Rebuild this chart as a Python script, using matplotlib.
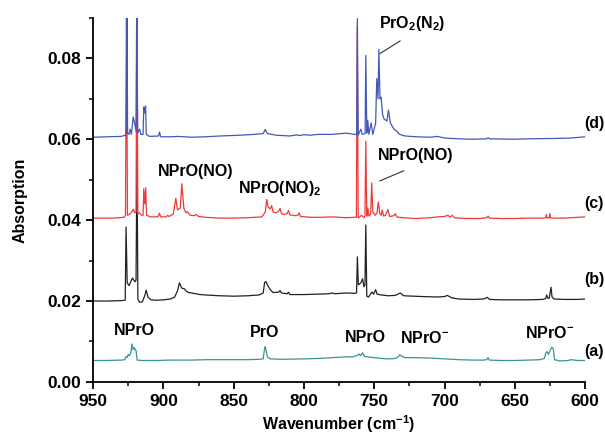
import matplotlib
matplotlib.use("Agg")
import matplotlib.pyplot as plt
import numpy as np
from matplotlib.ticker import MultipleLocator

# (wavenumber, absorbance) vertices
trace_a = [(950, 0.0053), (940, 0.0053), (930, 0.0054), (927.5, 0.0055), (926.6, 0.0063), (926, 0.0060),
           (925, 0.0068), (924.2, 0.0065), (923.2, 0.0072), (922.4, 0.0094), (921.6, 0.0080), (920.7, 0.0085),
           (920, 0.0078), (919.5, 0.0078), (918.7, 0.0054), (915, 0.0053), (905, 0.0053), (895, 0.0054),
           (880, 0.0054), (870, 0.0055), (860, 0.0055), (850, 0.0055), (840, 0.0055), (832, 0.0056),
           (829, 0.0057), (828, 0.0084), (827.5, 0.0087), (826, 0.0062), (824, 0.0057), (815, 0.0056),
           (800, 0.0057), (790, 0.0058), (780, 0.0060), (770, 0.0062), (765, 0.0062), (762, 0.0066),
           (760.8, 0.0069), (759.8, 0.0065), (758.3, 0.0072), (757, 0.0063), (755, 0.0062), (750, 0.0060),
           (745, 0.0058), (740, 0.0057), (735, 0.0058), (733, 0.0062), (731.8, 0.0067), (730.5, 0.0064),
           (728, 0.0060), (720, 0.0060), (710, 0.0059), (700, 0.0057), (690, 0.0055), (680, 0.0054),
           (672, 0.0054), (670, 0.0055), (669, 0.0060), (668, 0.0054), (660, 0.0053), (650, 0.0053),
           (640, 0.0054), (632, 0.0055), (629, 0.0058), (627.8, 0.0072), (627, 0.0075), (626, 0.0068),
           (625, 0.0077), (623.6, 0.0086), (622.6, 0.0082), (621.7, 0.0055), (618, 0.0052), (612, 0.0053),
           (610, 0.0055), (605, 0.0053), (600, 0.0053)]

trace_b = [(950, 0.0200), (940, 0.0200), (930, 0.0201), (927.2, 0.0202), (926.6, 0.0383), (925.8, 0.0245),
           (924.5, 0.0238), (923.5, 0.0246), (922, 0.0257), (920.8, 0.0250), (920, 0.0248), (919.5, 0.0252),
           (918.8, 0.058), (918.2, 0.0205), (917, 0.0197), (915, 0.0198), (913, 0.0216), (912.3, 0.0227),
           (911, 0.0210), (909, 0.0203), (905, 0.0202), (900, 0.0203), (895, 0.0205), (892, 0.0210),
           (890, 0.0225), (888.6, 0.0245), (887, 0.0232), (885, 0.0230), (884, 0.0225), (882, 0.0221),
           (880, 0.0220), (877, 0.0218), (874, 0.0216), (870, 0.0215), (860, 0.0213), (850, 0.0212),
           (840, 0.0213), (832, 0.0215), (829, 0.0220), (828, 0.0246), (827, 0.0248), (826, 0.0240),
           (824, 0.0228), (822, 0.0221), (818, 0.0222), (817, 0.0226), (816, 0.0220), (812, 0.0218),
           (811, 0.0222), (810, 0.0216), (800, 0.0216), (790, 0.0217), (782, 0.0218), (780, 0.0220),
           (778, 0.0218), (770, 0.0220), (764, 0.0219), (762.6, 0.0220), (762, 0.0309), (761.3, 0.0240),
           (759.5, 0.0245), (758.3, 0.0255), (757.3, 0.0235), (756.6, 0.0240), (756, 0.0388), (755.3, 0.0212),
           (754, 0.0210), (752.5, 0.0218), (751.5, 0.0222), (750.5, 0.0217), (749, 0.0228), (748, 0.0217),
           (745, 0.0215), (740, 0.0213), (735, 0.0214), (731.5, 0.0220), (729, 0.0213), (722, 0.0212),
           (715, 0.0211), (705, 0.0210), (700, 0.0211), (698, 0.0214), (695, 0.0208), (690, 0.0205),
           (680, 0.0204), (672, 0.0205), (669.5, 0.0209), (668, 0.0204), (660, 0.0203), (650, 0.0203),
           (640, 0.0203), (630, 0.0204), (628, 0.0206), (627.3, 0.0215), (626.5, 0.0207), (625.5, 0.0207),
           (624.2, 0.0234), (623.5, 0.0210), (622, 0.0205), (615, 0.0204), (605, 0.0204), (600, 0.0205)]

trace_c = [(950, 0.0405), (935, 0.0405), (928, 0.0407), (927, 0.0412), (926.3, 0.095), (925.6, 0.0412),
           (924, 0.0415), (923, 0.0418), (921.3, 0.0427), (920.5, 0.0418), (919.5, 0.0420), (918.9, 0.095),
           (918.2, 0.0415), (917, 0.0418), (915.5, 0.0412), (914.5, 0.0412), (914, 0.0478), (913.3, 0.0440),
           (912.6, 0.0480), (912, 0.0412), (909, 0.0408), (904, 0.0408), (902.8, 0.0417), (902, 0.0408),
           (898, 0.0408), (897, 0.0412), (896, 0.0409), (893, 0.0415), (891.2, 0.0454), (890, 0.0425),
           (888, 0.0430), (886.9, 0.0490), (885.5, 0.0430), (884, 0.0418), (883, 0.0421), (881, 0.0412),
           (878, 0.0411), (877, 0.0414), (875, 0.0409), (870, 0.0407), (860, 0.0405), (850, 0.0405),
           (840, 0.0406), (830, 0.0408), (827.5, 0.0420), (826.5, 0.0451), (825.5, 0.0432), (824, 0.0428),
           (823, 0.0436), (822, 0.0420), (820, 0.0418), (818, 0.0422), (817, 0.0429), (816, 0.0416),
           (814, 0.0414), (812, 0.0416), (811, 0.0424), (810, 0.0413), (806, 0.0411), (804, 0.0413),
           (803.5, 0.0418), (802.5, 0.0409), (795, 0.0407), (788, 0.0407), (780, 0.0408), (775, 0.0407),
           (770, 0.0406), (764, 0.0407), (762.7, 0.0407), (762.1, 0.088), (761.4, 0.0405), (759, 0.0412),
           (757.5, 0.0406), (756.6, 0.0410), (756, 0.0595), (755.3, 0.0410), (754.6, 0.0430), (753.8, 0.0410),
           (752.5, 0.0415), (751.8, 0.0492), (751, 0.0420), (749.5, 0.0412), (748, 0.0418), (747.1, 0.0445),
           (746, 0.0415), (745, 0.0412), (744.3, 0.0425), (743.3, 0.0410), (742, 0.0412), (740.3, 0.0426),
           (739, 0.0409), (736, 0.0411), (735, 0.0416), (734, 0.0408), (730, 0.0406), (725, 0.0405),
           (720, 0.0404), (710, 0.0406), (705, 0.0408), (700, 0.0409), (697.5, 0.0412), (696, 0.0407),
           (694.5, 0.0412), (693, 0.0406), (685, 0.0404), (675, 0.0404), (670, 0.0406), (669, 0.0410),
           (668, 0.0405), (660, 0.0404), (650, 0.0404), (640, 0.0405), (630, 0.0405), (628, 0.0406),
           (627.5, 0.0414), (627, 0.0405), (625.5, 0.0406), (625, 0.0416), (624.5, 0.0405), (615, 0.0405),
           (605, 0.0407), (600, 0.0408)]

trace_d = [(950, 0.0605), (940, 0.0606), (930, 0.0607), (927, 0.0610), (926.5, 0.0625), (926, 0.095),
           (925.5, 0.0615), (924.5, 0.0612), (923.7, 0.0625), (922.8, 0.0612), (921.5, 0.0655), (920.5, 0.0640),
           (919.5, 0.0620), (919, 0.095), (918.3, 0.0615), (917, 0.0625), (916, 0.0612), (914.5, 0.0612),
           (914, 0.0680), (913.3, 0.0665), (912.7, 0.0682), (912.2, 0.0612), (910, 0.0607), (903.5, 0.0608),
           (902.8, 0.0618), (902, 0.0606), (895, 0.0606), (890, 0.0607), (880, 0.0605), (870, 0.0606),
           (860, 0.0608), (845, 0.0610), (835, 0.0612), (829, 0.0614), (827.5, 0.0624), (826, 0.0614),
           (820, 0.0610), (810, 0.0608), (805, 0.0611), (804, 0.0609), (800, 0.0611), (795, 0.0610),
           (790, 0.0612), (780, 0.0612), (770, 0.0615), (764, 0.0612), (762.5, 0.0612), (762, 0.0898),
           (761.4, 0.0610), (759.5, 0.0625), (758.5, 0.0612), (756.5, 0.0614), (756, 0.0807), (755.3, 0.0615),
           (754.6, 0.0647), (753.8, 0.0612), (752.2, 0.0640), (751, 0.0612), (749, 0.0640), (748.2, 0.0750),
           (747.3, 0.0700), (746.7, 0.0822), (745.9, 0.0700), (745.1, 0.0704), (744, 0.0660), (743, 0.0650),
           (741, 0.0645), (739.9, 0.0672), (738.5, 0.0640), (736, 0.0625), (734, 0.0620), (732, 0.0612),
           (728, 0.0608), (720, 0.0606), (710, 0.0605), (705, 0.0607), (700, 0.0603), (690, 0.0601),
           (680, 0.0600), (670, 0.0601), (669, 0.0604), (668, 0.0601), (650, 0.0600), (640, 0.0601),
           (620, 0.0602), (610, 0.0603), (600, 0.0606)]

trace_labels = ["(a)", "(b)", "(c)", "(d)"]
label_y = [0.0075, 0.0252, 0.0442, 0.0640]
colors = ["#3a9393", "#222222", "#ee3a3a", "#4258b8"]

plt.rcParams['font.family'] = ['Liberation Sans', 'DejaVu Sans']
plt.rcParams['font.weight'] = 'bold'
plt.rcParams['mathtext.fontset'] = 'custom'
plt.rcParams['mathtext.rm'] = 'Liberation Sans:bold'
plt.rcParams['mathtext.it'] = 'Liberation Sans:bold'
plt.rcParams['mathtext.bf'] = 'Liberation Sans:bold'

fig = plt.figure(figsize=(6.05, 4.36), dpi=100)
ax = fig.add_axes([0.154, 0.124, 0.813, 0.835])

for tr, c in zip([trace_a, trace_b, trace_c, trace_d], colors):
    arr = np.array(tr)
    ax.plot(arr[:, 0], arr[:, 1], color=c, lw=0.9)

for lab, y in zip(trace_labels, label_y):
    ax.text(600.5, y, lab, fontsize=11.5, fontweight='bold', ha='left', va='center', clip_on=False)

fs = 11.5
ax.text(920.5, 0.0126, "NPrO", fontsize=fs, ha='center', va='center')
ax.text(828, 0.0121, "PrO", fontsize=fs, ha='center', va='center')
ax.text(756.5, 0.0109, "NPrO", fontsize=fs, ha='center', va='center')
ax.text(714, 0.0109, r"NPrO$^{-}$", fontsize=fs, ha='center', va='center')
ax.text(625, 0.0120, r"NPrO$^{-}$", fontsize=fs, ha='center', va='center')
ax.text(877, 0.0519, "NPrO(NO)", fontsize=fs, ha='center', va='center')
ax.text(817, 0.0479, r"NPrO(NO)$_{2}$", fontsize=fs, ha='center', va='center')
ax.text(747.3, 0.0560, "NPrO(NO)", fontsize=fs, ha='left', va='center')
ax.plot([746, 729], [0.0497, 0.0522], color='#333333', lw=0.8)
ax.text(746.3, 0.0887, r"PrO$_{2}$(N$_{2}$)", fontsize=fs, ha='left', va='center')
ax.plot([745.8, 731.6], [0.0812, 0.0843], color='#333333', lw=0.8)

ax.set_xlim(950, 600)
ax.set_ylim(0, 0.09)
ax.xaxis.set_major_locator(MultipleLocator(50))
ax.xaxis.set_minor_locator(MultipleLocator(25))
ax.yaxis.set_major_locator(MultipleLocator(0.02))
ax.yaxis.set_minor_locator(MultipleLocator(0.01))
ax.spines['top'].set_visible(False)
ax.spines['right'].set_visible(False)
ax.spines['left'].set_linewidth(1.3)
ax.spines['bottom'].set_linewidth(1.3)
ax.tick_params(which='major', direction='out', length=5, width=1.3, labelsize=12.5)
ax.tick_params(which='minor', direction='out', length=3, width=1.1)
ax.set_yticks([0, 0.02, 0.04, 0.06, 0.08])
ax.set_yticklabels(["0.00", "0.02", "0.04", "0.06", "0.08"])
for t in ax.get_xticklabels() + ax.get_yticklabels():
    t.set_fontweight('bold')

ax.set_xlabel(r"Wavenumber (cm$^{-1}$)", fontsize=11.5, fontweight='bold', labelpad=3)
ax.set_ylabel("Absorption", fontsize=11.5, fontweight='bold', labelpad=14)

fig.savefig("out.png", dpi=100)
